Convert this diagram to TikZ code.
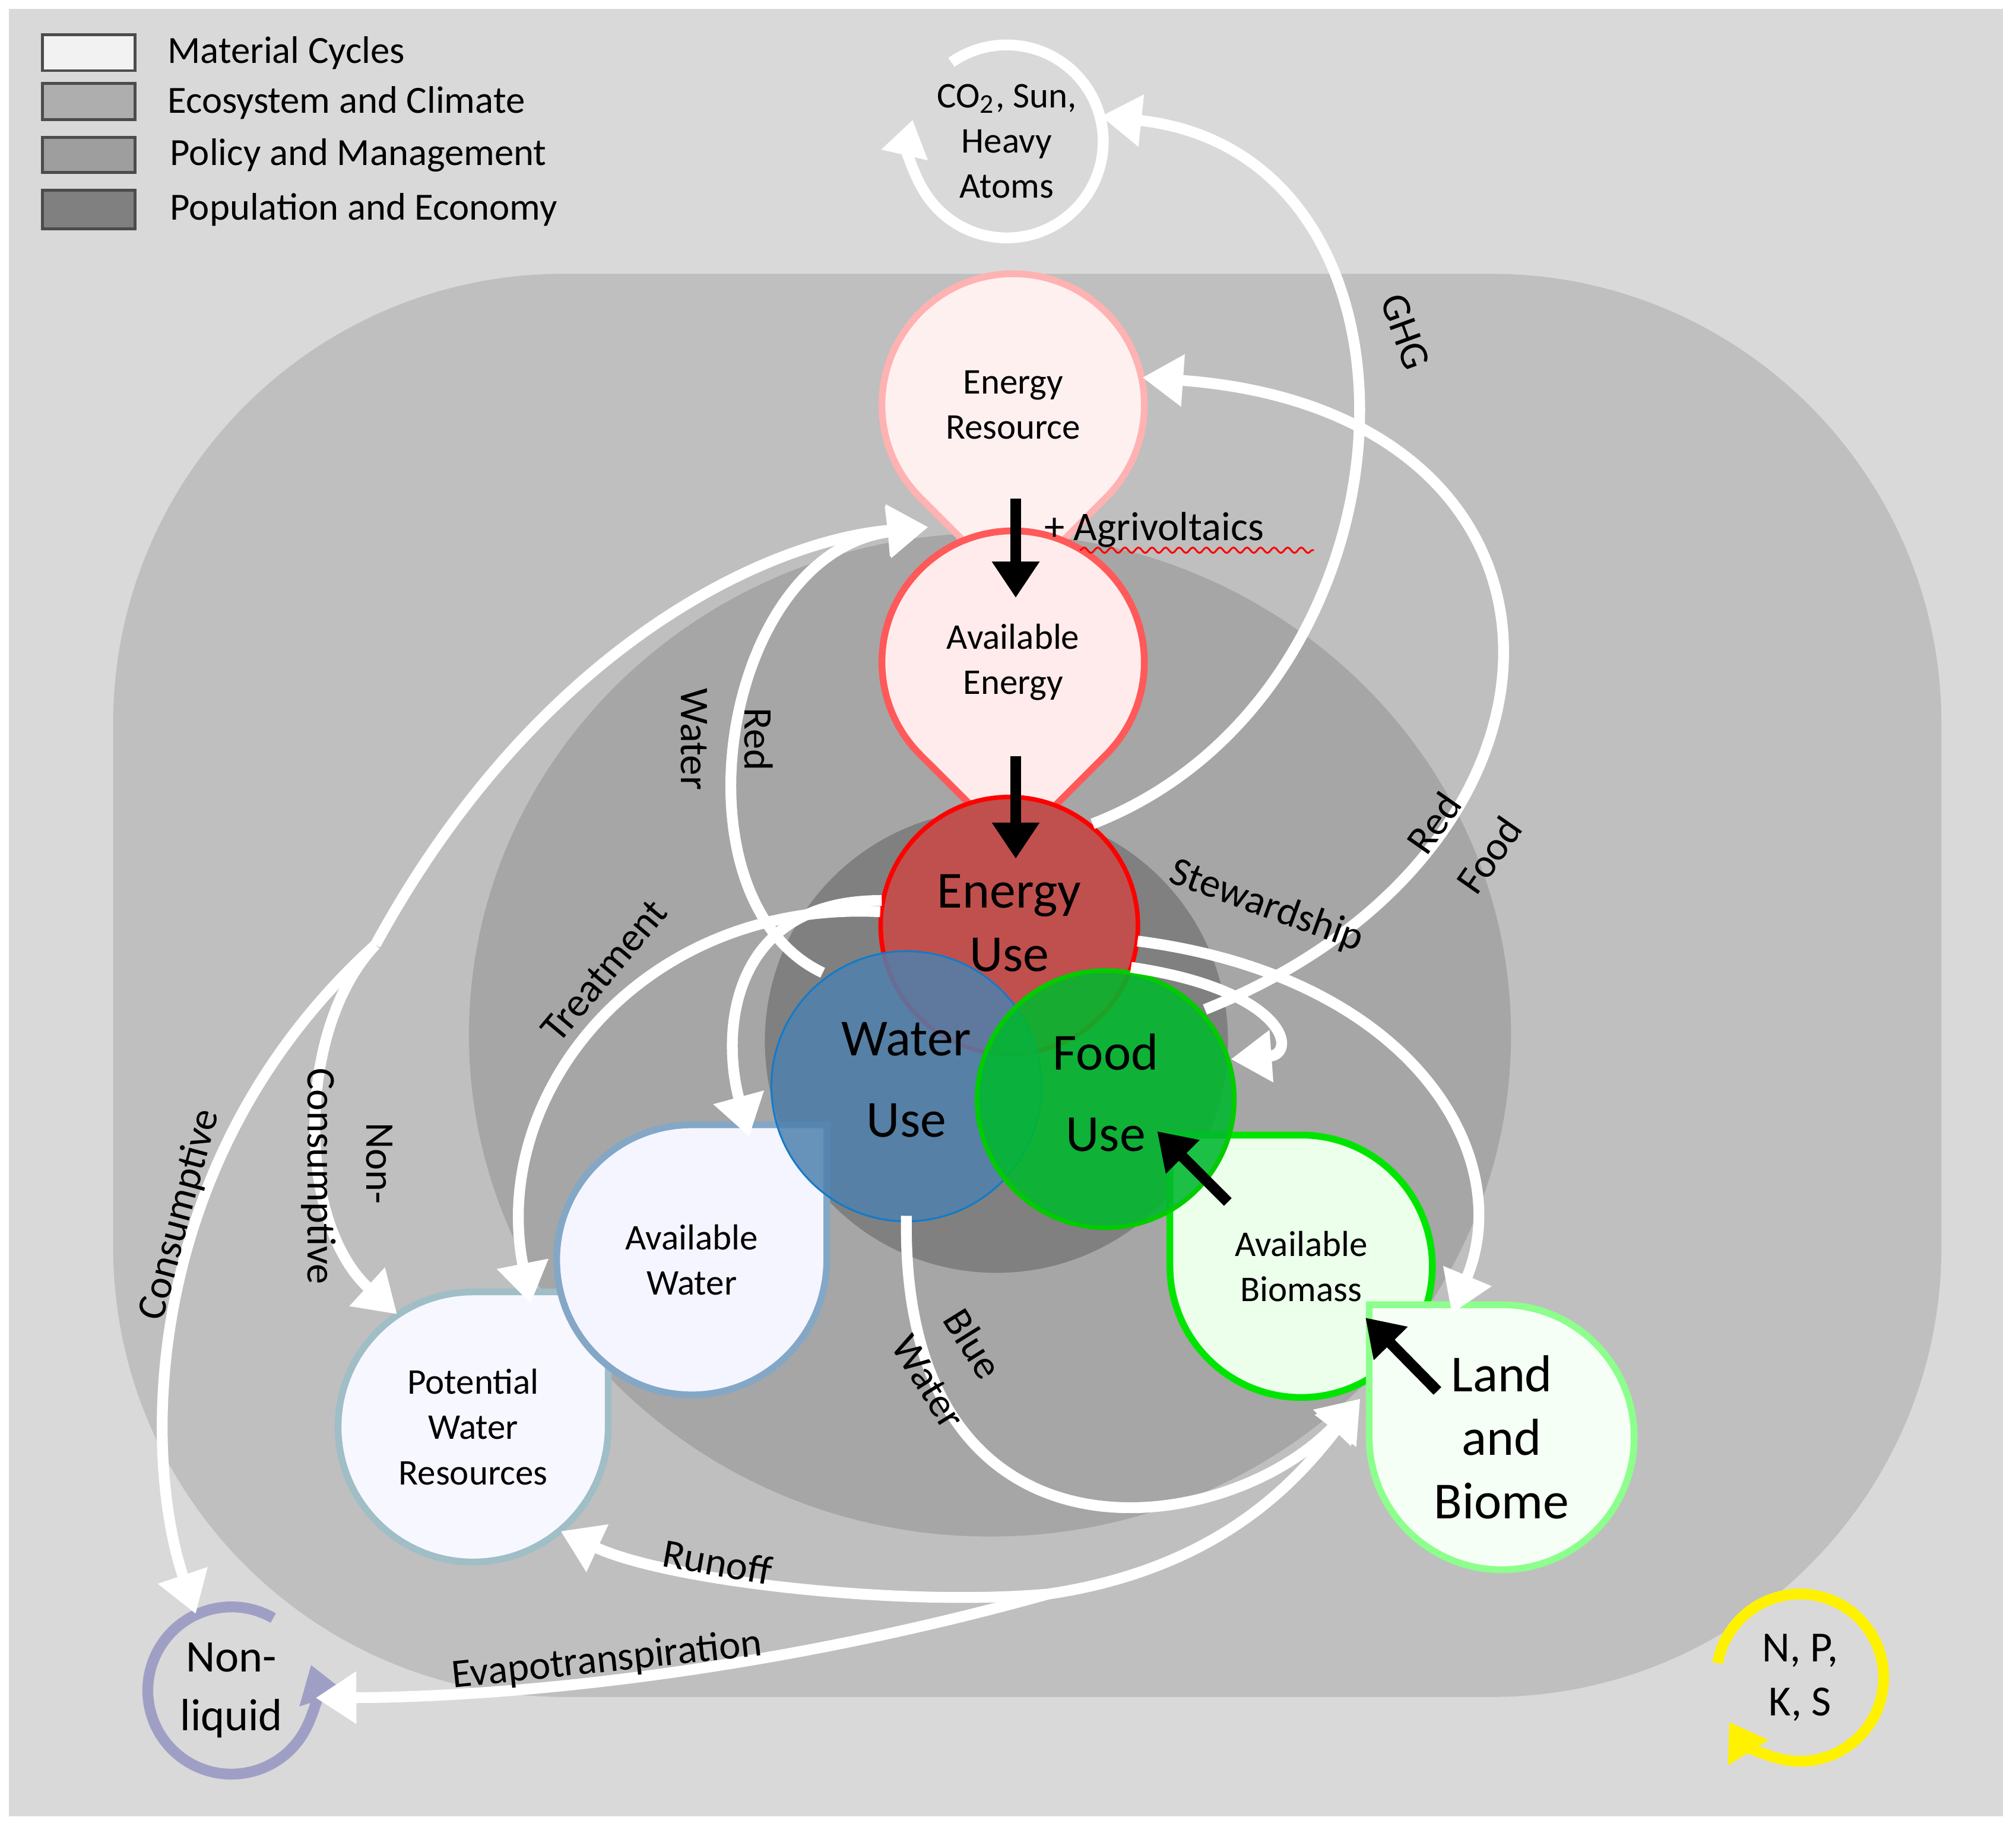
\documentclass[tikz,border=0pt]{standalone}
\usepackage{fontspec}
\setmainfont{Carlito}
\usepackage{xcolor}
\usetikzlibrary{arrows.meta, calc, decorations.pathmorphing}

\definecolor{bgouter}{HTML}{D9D9D9}
\definecolor{bgeco}{HTML}{BFBFBF}
\definecolor{bgpolicy}{HTML}{A6A6A6}
\definecolor{bgpop}{HTML}{808080}
\definecolor{energyred}{HTML}{C0504D}
\definecolor{waterblue}{HTML}{4F81AD}
\definecolor{foodgreen}{HTML}{00B82E}

% teardrop: style, x, y, radius (cm), tip angle
\newcommand\drop[5]{%
  \path[#1] ($(#2,#3)+(#5:{1.414*#4 cm})$) -- ($(#2,#3)+({#5+45}:{#4 cm})$)
    arc[start angle={#5+45}, delta angle=270, radius={#4 cm}] -- cycle;}

\begin{document}
\begin{tikzpicture}[
    x=0.01cm, y=-0.01cm,
    % Styles
    label/.style={circle, inner sep=0pt, align=center, font=\fontsize{8}{10}\selectfont},
    biglabel/.style={circle, inner sep=0pt, align=center, font=\fontsize{11.5}{14}\selectfont},
    flow/.style={draw=white, line width=2.4pt, -{Triangle[length=9pt,width=11pt]}},
    push/.style={draw=black, line width=2.4pt, -{Triangle[length=8pt,width=10pt]}},
    flowtext/.style={font=\fontsize{9}{11}\selectfont, inner sep=1pt},
    legbox/.style={draw=black!70, line width=0.6pt},
    legtext/.style={anchor=west, font=\fontsize{8.5}{10}\selectfont}
]
\useasboundingbox (0,0) rectangle (1568,1421);
\fill[white] (0,0) rectangle (1568,1421);

% Background layers
\fill[bgouter] (7,7) rectangle (1558,1413);
\fill[bgeco, rounded corners=3.5cm] (88,213) rectangle (1510,1320);
\fill[bgpolicy] (770,805) ellipse [x radius=4.05cm, y radius=3.9cm];
\fill[bgpop] (775,810) circle [radius=1.8cm];

% Legend
\draw[legbox, fill=white!95!black] (33,27) rectangle (105,55);
\draw[legbox, fill=bgouter!80!black] (33,65) rectangle (105,93);
\draw[legbox, fill=bgpolicy!95!black] (33,107) rectangle (105,134);
\draw[legbox, fill=bgpop] (33,148) rectangle (105,178);
\node[legtext] (legA) at (118,41) {Material Cycles};
\node[legtext] (legB) at (118,80) {Ecosystem and Climate};
\node[legtext] (legC) at (120,121) {Policy and Management};
\node[legtext] (legD) at (120,163) {Population and Economy};

% Small cycles
\draw[white, line width=2.4pt, -{Triangle[length=8pt,width=10pt]}]
  ($(783,110)+(125:0.75cm)$) arc[start angle=125, delta angle=-318, radius=0.75cm];
\node[label, minimum size=1.5cm] (co2) at (783,110) {CO\textsubscript{2}, Sun,\\Heavy\\Atoms};
\draw[blue!25!gray!60, line width=2.4pt, -{Triangle[length=8pt,width=10pt]}]
  ($(180,1315)+(60:0.65cm)$) arc[start angle=60, delta angle=318, radius=0.65cm];
\node[biglabel, minimum size=1.3cm, font=\fontsize{10}{13}\selectfont] (nonliq) at (180,1315) {Non-\\liquid};
\draw[yellow, line width=2.4pt, -{Triangle[length=8pt,width=10pt]}]
  ($(1400,1305)+(170:0.65cm)$) arc[start angle=170, delta angle=-318, radius=0.65cm];
\node[label, minimum size=1.3cm, font=\fontsize{9.5}{12}\selectfont] (npks) at (1400,1305) {N, P,\\K, S};

% Resource drops
\drop{fill=red!6, draw=red!30, line width=1.5pt}{788}{315}{1.02}{-90}
\drop{fill=red!8, draw=red!65, line width=1.5pt}{788}{515}{1.02}{-90}
\drop{fill=blue!3, draw=blue!20!cyan!25!gray!60, line width=1.5pt}{368}{1110}{1.05}{45}
\drop{fill=blue!4, draw=waterblue!70, line width=1.5pt}{538}{980}{1.05}{45}
\drop{fill=green!8, draw=green!90!black, line width=1.5pt}{1012}{985}{1.02}{135}
\drop{fill=green!4, draw=green!45, line width=1.5pt}{1168}{1118}{1.03}{135}

% Use circles
\fill[energyred, draw=red, line width=1pt] (785,720) circle [radius=1.0cm];
\fill[waterblue, fill opacity=0.85, draw=cyan!60!blue] (705,845) circle [radius=1.05cm];
\fill[foodgreen, fill opacity=0.88, draw=green!80!black, line width=1pt] (860,855) circle [radius=1.0cm];

\node[label, minimum size=2.04cm] (eres) at (788,315) {Energy\\Resource};
\node[label, minimum size=2.04cm] (aen) at (788,515) {Available\\Energy};
\node[biglabel, minimum size=2cm] (euse) at (785,718) {Energy\\Use};
\node[biglabel, minimum size=2.1cm] (wuse) at (705,840) {Water\\[4pt]Use};
\node[biglabel, minimum size=2cm] (fuse) at (860,850) {Food\\[4pt]Use};
\node[label, minimum size=2.1cm] (awater) at (538,980) {Available\\Water};
\node[label, minimum size=2.1cm] (pwr) at (368,1110) {Potential\\Water\\Resources};
\node[label, minimum size=2.04cm] (abio) at (1012,985) {Available\\Biomass};
\node[biglabel, minimum size=2.06cm] (land) at (1168,1118) {Land\\and\\Biome};

\coordinate (join) at (722,410);
\coordinate (branch) at (292,735);
\coordinate (ev) at (815,1240);
\coordinate (bioin) at (1058,1088);

% Flows
\draw[flow] (euse.50) .. controls (1110,540) and (1130,120) .. (co2.15);
\draw[flow] (fuse.40) .. controls (1250,660) and (1250,320) .. (eres.12);
\draw[flow] (euse.-8) .. controls (1100,760) and (1180,900) .. (land.112);
\draw[flow] (euse.-20) .. controls (1000,770) and (1010,820) .. (fuse.15);
\draw[flow] (euse.175) .. controls (500,700) and (380,850) .. (pwr.65);
\draw[flow] (euse.170) .. controls (570,700) and (560,800) .. (awater.65);
\draw[flow] (wuse.128) .. controls (520,700) and (560,430) .. (join);
\draw[flow] (branch) .. controls (420,500) and (600,420) .. (join);
\draw[flow] (branch) .. controls (110,900) and (110,1130) .. (nonliq.115);
\draw[flow] (branch) .. controls (230,800) and (230,950) .. (pwr.124);
\draw[flow] (wuse.-90) .. controls (700,1230) and (950,1200) .. (bioin);
\draw[flow] (ev) .. controls (950,1220) and (1010,1150) .. (bioin);
\draw[flow] (ev) .. controls (700,1250) and (520,1230) .. (pwr.-50);
\draw[flow] (ev) .. controls (600,1300) and (400,1320) .. (nonliq.-5);

% Internal pushes
\coordinate (pA) at (790,388); \coordinate (pA') at (790,465);
\coordinate (pB) at (790,588); \coordinate (pB') at (790,668);
\coordinate (pC) at (955,935); \coordinate (pC') at (900,880);
\coordinate (pD) at (1118,1082); \coordinate (pD') at (1062,1025);
\draw[push] (pA) -- (pA');
\draw[push] (pB) -- (pB');
\draw[push] (pC) -- (pC');
\draw[push] (pD) -- (pD');

% Flow labels
\node[flowtext, anchor=west] (agri) at (808,412) {+ Agrivoltaics};
\draw[red, decorate, decoration={snake, amplitude=0.6pt, segment length=3pt}] (840,428) -- (1022,428);
\node[flowtext, rotate=-70] (ghg) at (1093,258) {GHG};
\node[flowtext, rotate=55] (redf) at (1115,640) {Red};
\node[flowtext, rotate=55] (food) at (1158,665) {Food};
\node[flowtext, rotate=-20] (stew) at (985,705) {Stewardship};
\node[flowtext, rotate=-90] (rwater) at (540,575) {Water};
\node[flowtext, rotate=-90] (rred) at (590,575) {Red};
\node[flowtext, rotate=50] (treat) at (470,755) {Treatment};
\node[flowtext, rotate=-90] (noncA) at (295,905) {Non-};
\node[flowtext, rotate=-90] (noncB) at (248,915) {Consumptive};
\node[flowtext, rotate=75] (cons) at (140,945) {Consumptive};
\node[flowtext, rotate=-58] (blue) at (757,1045) {Blue};
\node[flowtext, rotate=-58] (bwater) at (722,1075) {Water};
\node[flowtext, rotate=-10] (runoff) at (558,1215) {Runoff};
\node[flowtext, rotate=6] (evap) at (472,1292) {Evapotranspiration};
\end{tikzpicture}
\end{document}
